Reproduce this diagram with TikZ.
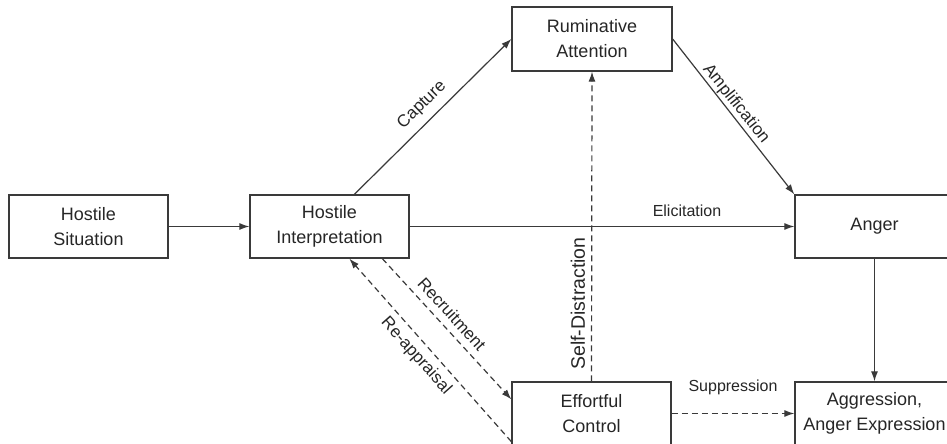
\documentclass[tikz,border=0pt]{standalone}
\usepackage{fontspec}
\setmainfont{Liberation Sans}
\usetikzlibrary{arrows.meta,calc}
\definecolor{ink}{HTML}{262626}
\definecolor{lin}{HTML}{3A3A3A}
\begin{document}
\begin{tikzpicture}[x=1pt,y=1pt,
  box/.style={draw=lin, line width=1.3pt, minimum width=159pt, minimum height=63pt,
    align=center, text=ink, font=\fontsize{18}{25}\selectfont, inner sep=0pt},
  arr/.style={draw=lin, line width=1.2pt, -{Latex[length=10pt,width=7pt]}},
  dsh/.style={arr, dash pattern=on 6pt off 4pt},
  lbl/.style={text=ink, font=\fontsize{17}{20}\selectfont, inner sep=0pt},
  slbl/.style={text=ink, font=\fontsize{16}{19}\selectfont, inner sep=0pt}]
\useasboundingbox (0,0) rectangle (947,444);
\clip (0,0) rectangle (947,444);
\fill[white] (0,0) rectangle (947,444);

% boxes
\node[box] (hs) at (88.5,217.5) {Hostile\\Situation};
\node[box] (hi) at (329.5,217.5) {Hostile\\Interpretation};
\node[box, minimum width=160pt, minimum height=64pt] (ra) at (592,405) {Ruminative\\Attention};
\node[box] (an) at (874.5,217.5) {Anger};
\node[box] (ag) at (874.5,30.5) {Aggression,\\Anger Expression};
\node[box] (ec) at (591.5,30.5) {Effortful\\Control};

% solid connectors
\draw[arr] (hs.east) -- (hi.west);
\draw[arr] ($(hi.north west)+(105,0)$) -- (ra.west);
\draw[arr] (ra.east) -- (an.north west);
\draw[arr] (hi.east) -- (an.west);
\draw[arr] (an.south) -- (ag.north);

% dashed connectors
\draw[dsh] (ec.east) -- (ag.west);
\draw[dsh] (ec.north) -- (ra.south);
\draw[dsh] ($(hi.south west)+(133,0)$) -- ($(ec.north west)+(0,-18)$);
\draw[dsh] ($(ec.south west)+(0,4)$) -- ($(hi.south west)+(100,0)$);

% labels
\node[lbl, rotate=44.4] (lcap) at (422,339) {Capture};
\node[lbl, rotate=-51.4] (lamp) at (736,340) {Amplification};
\node[slbl] (leli) at (687,233) {Elicitation};
\node[lbl, font=\fontsize{19.5}{22}\selectfont, rotate=90] (lsd) at (578,140.5) {Self-Distraction};
\node[lbl, rotate=-47.8] (lrec) at (452,130) {Recruitment};
\node[lbl, rotate=-48.3] (lrea) at (416,88) {Re-appraisal};
\node[slbl] (lsup) at (733,57) {Suppression};
\end{tikzpicture}
\end{document}
